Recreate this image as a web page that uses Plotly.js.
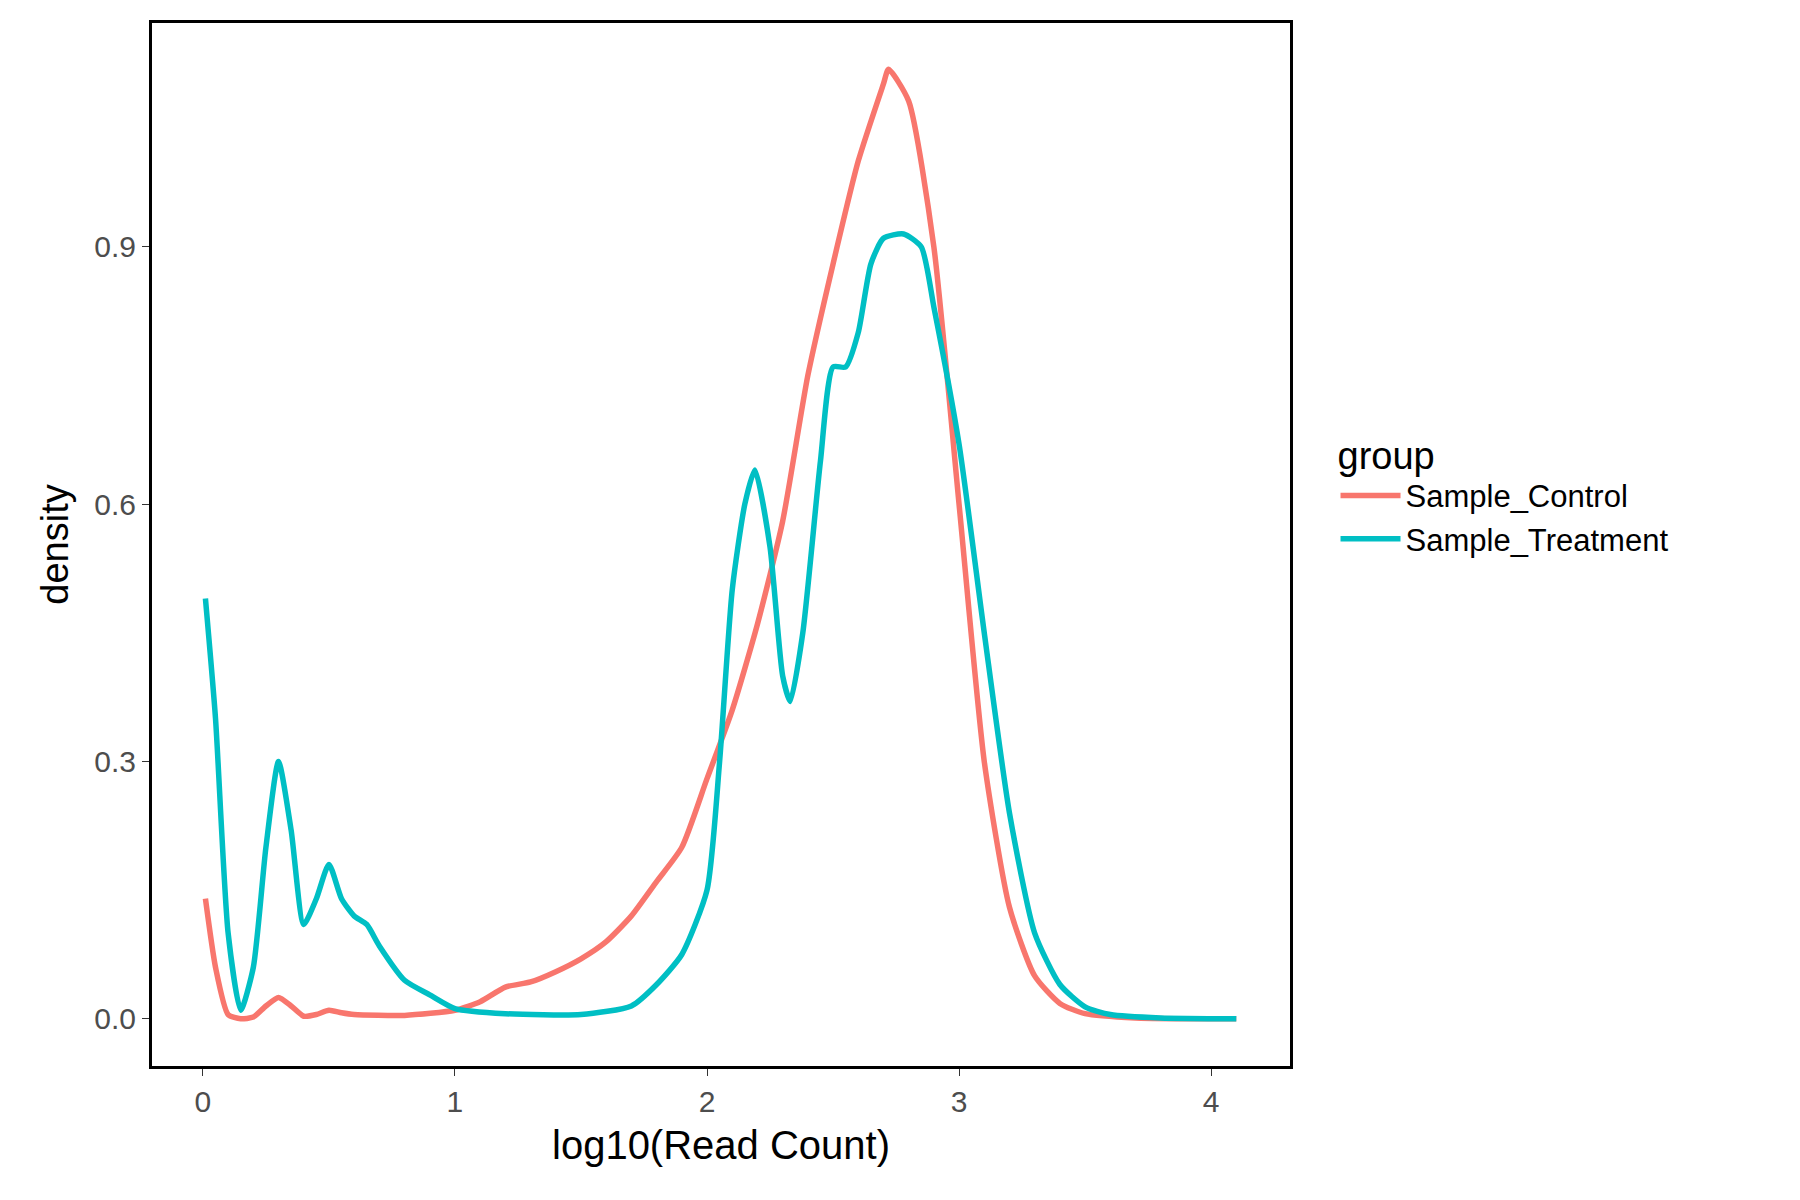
<!DOCTYPE html>
<html>
<head>
<meta charset="utf-8">
<script src="https://cdn.plot.ly/plotly-3.0.1.min.js"></script>
<style>body{margin:0;background:#fff}</style>
</head>
<body>
<div id="graph" style="width:1800px;height:1200px"></div>
<script>
// density curves
var ctrlX = [0.01,0.05,0.1,0.15,0.2,0.25,0.3,0.35,0.4,0.45,0.5,0.55,0.6,0.8,1.0,1.1,1.2,1.3,1.4,1.5,1.6,1.7,1.8,1.9,2.0,2.1,2.2,2.3,2.4,2.5,2.6,2.7,2.72,2.8,2.9,3.0,3.1,3.2,3.3,3.4,3.5,3.7,4.1]
var ctrlY = [0.14,0.06,0.005,0.0,0.002,0.015,0.025,0.015,0.003,0.005,0.01,0.007,0.005,0.004,0.01,0.02,0.037,0.043,0.055,0.07,0.09,0.12,0.16,0.2,0.28,0.36,0.46,0.58,0.75,0.88,1.0,1.09,1.107,1.07,0.9,0.6,0.3,0.13,0.05,0.018,0.006,0.001,0]

var trtX = [0.01,0.05,0.1,0.15,0.2,0.25,0.3,0.35,0.4,0.45,0.5,0.55,0.6,0.65,0.7,0.8,0.9,1.0,1.2,1.5,1.7,1.8,1.9,2.0,2.05,2.1,2.15,2.19,2.25,2.3,2.33,2.38,2.45,2.5,2.55,2.6,2.65,2.7,2.78,2.85,2.9,3.0,3.1,3.2,3.3,3.4,3.5,3.6,3.8,4.1]
var trtY = [0.49,0.35,0.1,0.01,0.06,0.2,0.3,0.22,0.11,0.14,0.18,0.14,0.12,0.11,0.085,0.045,0.028,0.012,0.006,0.005,0.015,0.04,0.075,0.15,0.3,0.5,0.6,0.64,0.55,0.4,0.37,0.45,0.65,0.76,0.76,0.8,0.88,0.91,0.915,0.9,0.83,0.67,0.45,0.24,0.1,0.04,0.014,0.005,0.001,0]

var groups = ["Sample_Control","Sample_Treatment"]
var colors = ["#F8766D","#00BFC4"]

var data = [
  {x:ctrlX, y:ctrlY, type:"scatter", mode:"lines", name:groups[0],
   line:{color:colors[0], width:5.5, shape:"spline", smoothing:0.6}},
  {x:trtX, y:trtY, type:"scatter", mode:"lines", name:groups[1],
   line:{color:colors[1], width:5.5, shape:"spline", smoothing:0.6}}
]

var layout = {
  font:{family:"Liberation Sans, Arial, sans-serif", size:30, color:"#000"},
  paper_bgcolor:"#fff", plot_bgcolor:"#fff",
  margin:{l:152, r:510, t:23, b:134},
  showlegend:true,
  legend:{x:1.04, y:0.55, yanchor:"middle", font:{size:31}, itemwidth:60,
    title:{text:"group", font:{size:38}}, tracegroupgap:30},
  xaxis:{range:[-0.202,4.313], tickvals:[0,1,2,3,4], ticks:"outside", ticklen:7,
    tickcolor:"#333", tickfont:{size:30, color:"#4d4d4d"}, showgrid:false, zeroline:false,
    showline:true, mirror:true, linecolor:"#000", linewidth:3,
    title:{text:"log10(Read Count)", font:{size:40}, standoff:14}},
  yaxis:{range:[-0.055,1.161], tickvals:[0,0.3,0.6,0.9], ticktext:["0.0","0.3","0.6","0.9"],
    ticks:"outside", ticklen:7, tickcolor:"#333", tickfont:{size:30, color:"#4d4d4d"},
    showgrid:false, zeroline:false, showline:true, mirror:true, linecolor:"#000", linewidth:3,
    title:{text:"density", font:{size:38}, standoff:14}}
}

Plotly.newPlot("graph", data, layout, {displayModeBar:false})
</script>
</body>
</html>
